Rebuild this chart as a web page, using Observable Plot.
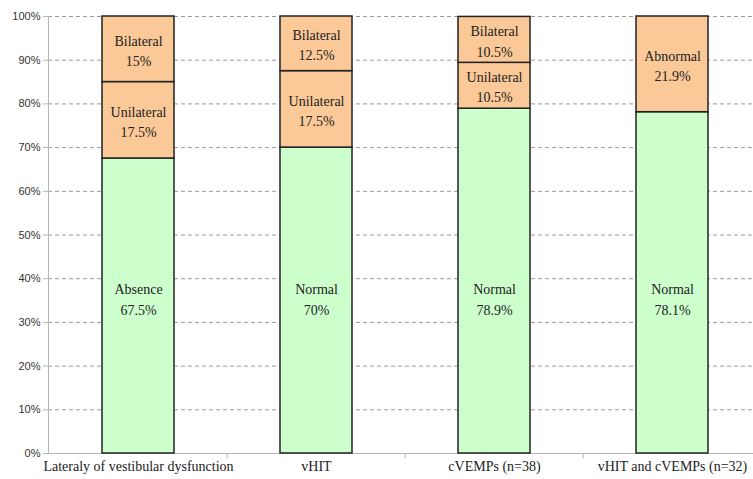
<!DOCTYPE html>
<html><head><meta charset="utf-8">
<script src="https://cdn.jsdelivr.net/npm/d3@7"></script>
<script src="https://cdn.jsdelivr.net/npm/@observablehq/plot@0.6"></script>
<style>body{margin:0;background:#fff}
g[aria-label="text"] text, g[aria-label="x-axis tick label"] text { font-family: "Liberation Serif", "Times New Roman", serif !important; }
g[aria-label="y-axis tick label"] text { font-family: "Liberation Sans", Arial, sans-serif !important; }
</style>
</head><body><div id="chart"></div>
<script>
const categories = ["Lateraly of vestibular dysfunction", "vHIT", "cVEMPs (n=38)", "vHIT and cVEMPs (n=32)"];
const segmentNames = [["Absence","Unilateral","Bilateral"],["Normal","Unilateral","Bilateral"],["Normal","Unilateral","Bilateral"],["Normal","Abnormal"]];
const segmentValues = [[67.5,17.5,15],[70,17.5,12.5],[78.9,10.5,10.5],[78.1,21.9]];
const yTicks = [0,10,20,30,40,50,60,70,80,90,100];
const gridTicks = yTicks.slice(1);

const GREEN = "#ccffcc", ORANGE = "#fbc897";
const bottomLabelY = 35.6;

const rows = [];
categories.forEach((c, i) => {
  let acc = 0;
  segmentNames[i].forEach((n, j) => {
    const v = segmentValues[i][j];
    rows.push({cat: c, name: n, value: v, y1: acc, y2: acc + v, bottom: j === 0,
      label: n + "\n" + v + "%"});
    acc += v;
  });
});

const chart = Plot.plot({
  width: 753, height: 479,
  marginLeft: 48, marginRight: 0, marginTop: 16, marginBottom: 26,
  style: {background: "#fff", overflow: "visible"},
  x: {domain: categories, range: [48, 762], padding: 0},
  y: {domain: [0, 100]},
  marks: [
    Plot.gridY(gridTicks, {stroke: "#9a9a9a", strokeOpacity: 1, strokeDasharray: "4,3"}),
    Plot.ruleY([0], {stroke: "#b5b5b5", strokeWidth: 1}),
    Plot.frame({anchor: "left", stroke: "#b5b5b5"}),
    Plot.ruleX(categories.slice(1), {x: d => d, dx: -89.25, y1: 0, y2: -1.2, stroke: "#b5b5b5"}),
    Plot.barY(rows, {x: "cat", y1: "y1", y2: "y2", fill: d => d.bottom ? GREEN : ORANGE,
      stroke: "#222", strokeWidth: 1.5, insetLeft: 53, insetRight: 53}),
    Plot.text(rows, {x: "cat", y: d => d.bottom ? bottomLabelY : (d.y1 + d.y2) / 2, text: "label",
      fontFamily: "Liberation Serif", fontSize: 14, lineHeight: 1.45, fill: "#222"}),
    Plot.axisY(yTicks, {tickFormat: d => d + "%", tickSize: 5, stroke: "#b5b5b5", tickPadding: 3,
      fontFamily: "Liberation Sans", fontSize: 11, fill: "#333", label: null}),
    Plot.axisX({tickSize: 0, tickPadding: 8, fontFamily: "Liberation Serif", fontSize: 14, fill: "#222", label: null})
  ]
});
document.getElementById("chart").appendChild(chart);
</script></body></html>
